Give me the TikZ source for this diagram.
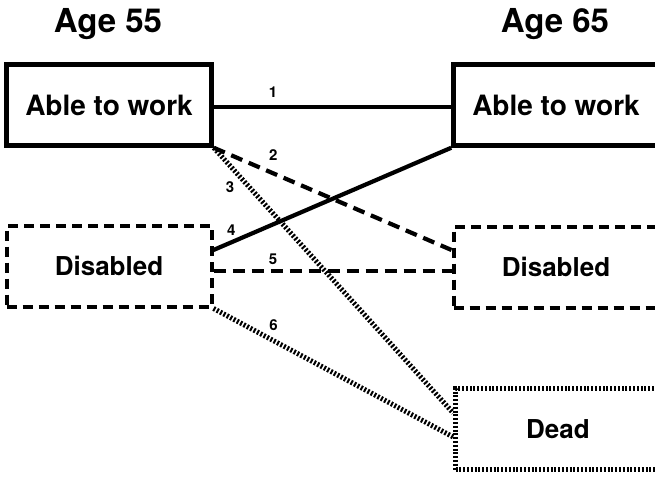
\documentclass[tikz,border=0pt]{standalone}
\usepackage{fontspec}
\setmainfont{TeX Gyre Heros}

\begin{document}
\begin{tikzpicture}[x=1pt, y=-1pt,
  state/.style={line width=4pt, minimum width=205pt, minimum height=81pt, inner sep=0pt,
    font=\fontsize{26}{30}\selectfont\bfseries},
  solidbox/.style={state, draw, line width=4.5pt, font=\fontsize{28}{32}\selectfont\bfseries},
  dashbox/.style={state, draw, dash pattern=on 10pt off 6pt},
  dotbox/.style={state, draw, line width=4.5pt, dash pattern=on 2pt off 1.8pt},
  solidline/.style={line width=4.2pt},
  dashline/.style={line width=4.2pt, dash pattern=on 12pt off 7pt},
  dotline/.style={line width=5pt, dash pattern=on 2pt off 1.8pt},
  num/.style={font=\fontsize{15}{17}\selectfont\bfseries, inner sep=1pt}]
  \clip (0,0) rectangle (655,476);

  % Titles
  \node[anchor=base, font=\fontsize{33}{37}\selectfont\bfseries] (t55) at (108,33) {Age 55};
  \node[anchor=base, font=\fontsize{33}{37}\selectfont\bfseries] (t65) at (555,33) {Age 65};

  % Nodes
  \node[solidbox] (able55) at (109,105) {Able to work};
  \node[dashbox] (dis55) at (109,266) {Disabled};
  \node[solidbox] (able65) at (556,105) {Able to work};
  \node[dashbox] (dis65) at (556,267) {Disabled};
  \node[dotbox] (dead) at (558,429) {Dead};

  % Transitions
  \draw[solidline] ([yshift=-2pt]able55.east) -- ([yshift=-2pt]able65.west) node[num, pos=.25, above=6pt] {1};
  \draw[dashline] (able55.south east) -- ([yshift=17pt]dis65.west) node[num, pos=.25, above=10pt] {2};
  \draw[dotline] (able55.south east) -- ([yshift=16pt]dead.west) node[num, pos=.15, left=12pt] {3};
  \draw[solidline] ([yshift=16pt]dis55.east) -- (able65.south west) node[num, pos=.075, above=4pt] {4};
  \draw[dashline] ([yshift=-5pt]dis55.east) -- ([yshift=-4pt]dis65.west) node[num, pos=.25, above=3pt] {5};
  \draw[dotline] (dis55.south east) -- ([yshift=-8pt]dead.west) node[num, pos=.25, above=6pt] {6};
\end{tikzpicture}
\end{document}
